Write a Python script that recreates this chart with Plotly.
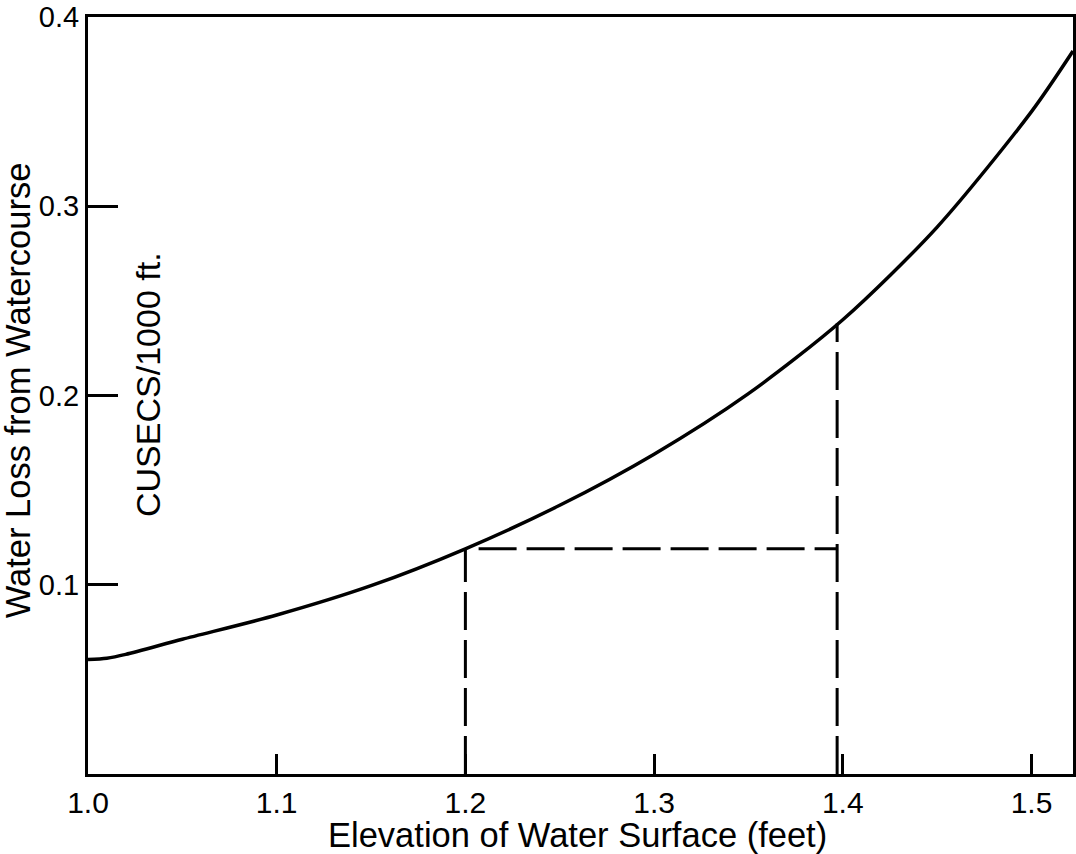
import plotly.graph_objects as go

# Data
elevation_ft = [1.00, 1.01, 1.02, 1.05, 1.10, 1.15, 1.20, 1.25, 1.30, 1.35, 1.40, 1.45, 1.50, 1.522]
water_loss = [0.0605, 0.0612, 0.0632, 0.0712, 0.0840, 0.0995, 0.1190, 0.1420, 0.1690, 0.2010, 0.2400, 0.2890, 0.3500, 0.3820]

guide_x = [1.2, 1.397]
guide_y = [0.119, 0.238]

x_ticks = [1.0, 1.1, 1.2, 1.3, 1.4, 1.5]
x_ticktext = ["1.0", "1.1", "1.2", "1.3", "1.4", "1.5"]
y_ticks = [0.1, 0.2, 0.3, 0.4]
y_ticktext = ["0.1", "0.2", "0.3", "0.4"]

FONT = "Liberation Sans, Arial, Helvetica, sans-serif"

fig = go.Figure()

fig.add_trace(go.Scatter(
    x=elevation_ft, y=water_loss, mode="lines",
    line=dict(color="black", width=3.5, shape="spline", smoothing=0.8),
    hoverinfo="skip", showlegend=False,
))

# dashed guide lines
dash = "38px,10px"
fig.add_trace(go.Scatter(
    x=[guide_x[0], guide_x[0]], y=[0, guide_y[0]], mode="lines",
    line=dict(color="black", width=3, dash=dash), showlegend=False, hoverinfo="skip",
))
fig.add_trace(go.Scatter(
    x=[guide_x[0] + 0.007, guide_x[1]], y=[guide_y[0], guide_y[0]], mode="lines",
    line=dict(color="black", width=3, dash=dash), showlegend=False, hoverinfo="skip",
))
fig.add_trace(go.Scatter(
    x=[guide_x[1], guide_x[1]], y=[0, guide_y[1]], mode="lines",
    line=dict(color="black", width=3, dash=dash), showlegend=False, hoverinfo="skip",
))

fig.update_layout(
    width=1076, height=854,
    margin=dict(l=88, r=3, t=17, b=80, autoexpand=False),
    paper_bgcolor="white", plot_bgcolor="white",
    font=dict(family=FONT, color="black"),
    xaxis=dict(
        range=[1.0, 1.522], tickvals=x_ticks, ticktext=x_ticktext,
        ticks="inside", ticklen=20, tickwidth=2.5, tickcolor="black",
        showline=True, linecolor="black", linewidth=3, mirror=True,
        showgrid=False, zeroline=False, ticklabeloverflow="allow",
        tickfont=dict(size=30, family=FONT),
    ),
    yaxis=dict(
        range=[0, 0.4], tickvals=y_ticks, ticktext=y_ticktext,
        ticks="inside", ticklen=30, tickwidth=3, tickcolor="black",
        showline=True, linecolor="black", linewidth=3, mirror=True,
        showgrid=False, zeroline=False, ticklabeloverflow="allow",
        tickfont=dict(size=29, family=FONT),
    ),
    annotations=[
        dict(text="Elevation of Water Surface (feet)", xref="paper", yref="paper",
             x=0.4965, y=-0.0806, xanchor="center", yanchor="middle",
             showarrow=False, font=dict(size=34.5, family=FONT)),
        dict(text="Water Loss from Watercourse", xref="paper", yref="paper",
             x=-0.071, y=0.507, xanchor="center", yanchor="middle", textangle=-90,
             showarrow=False, font=dict(size=34.5, family=FONT)),
        dict(text="CUSECS/1000 ft.", xref="paper", yref="paper",
             x=0.061, y=0.514, xanchor="center", yanchor="middle", textangle=-90,
             showarrow=False, font=dict(size=34, family=FONT)),
    ],
)

fig.write_html("out.html", config={"displayModeBar": False},
               post_script="document.body.style.margin='0px';")
